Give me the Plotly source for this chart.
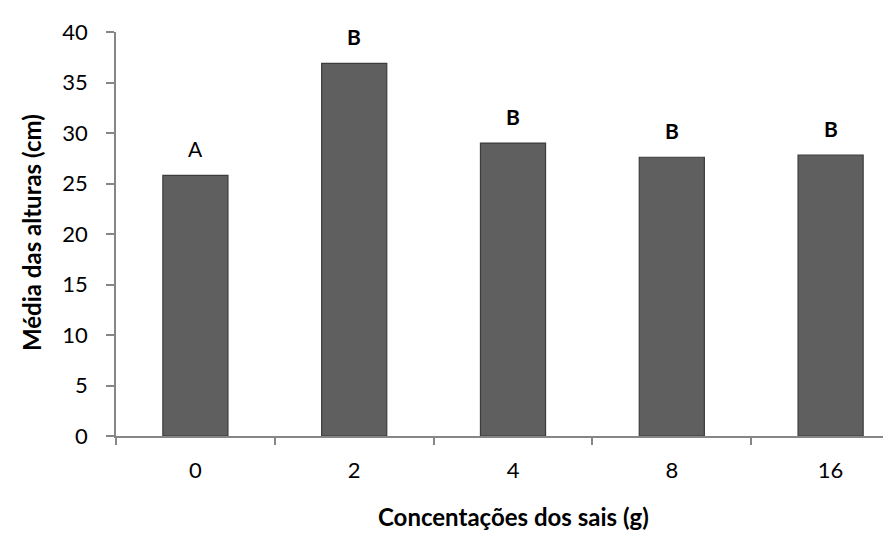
import plotly.graph_objects as go

categories = ["0", "2", "4", "8", "16"]
values = [25.8, 36.9, 29.0, 27.6, 27.8]
letters = ["A", "B", "B", "B", "B"]
letter_bold = [False, True, True, True, True]
y_ticks = [0, 5, 10, 15, 20, 25, 30, 35, 40]

FONT = "Lato"

fig = go.Figure()
fig.add_trace(go.Bar(
    x=categories, y=values, width=0.41,
    marker=dict(color="#5f5f5f", line=dict(color="#3c3c3c", width=1.2)),
    hoverinfo="skip",
))

for i, (v, t, b) in enumerate(zip(values, letters, letter_bold)):
    fig.add_annotation(
        x=i, y=v, text=f"<b>{t}</b>" if b else t, showarrow=False,
        yshift=27, yanchor="middle",
        font=dict(family=FONT, size=21, color="#000000"),
    )

fig.add_annotation(
    xref="paper", yref="paper", x=(505 - 108) / (891 - 108), y=(428 - 508) / 404,
    text="<b>Concentações dos sais (g)</b>", showarrow=False,
    xanchor="center", yanchor="middle",
    font=dict(family=FONT, size=24, color="#000000"),
)
fig.add_annotation(
    xref="paper", yref="paper", x=(23 - 108) / (891 - 108), y=(428 - 225) / 404,
    text="<b>Média das alturas (cm)</b>", showarrow=False, textangle=-90,
    xanchor="center", yanchor="middle",
    font=dict(family=FONT, size=24, color="#000000"),
)

fig.update_layout(
    width=891, height=533,
    margin=dict(l=108, r=0, t=24, b=105),
    plot_bgcolor="white", paper_bgcolor="white",
    showlegend=False,
    font=dict(family=FONT, size=22, color="#000000"),
    xaxis=dict(
        type="category",
        range=[-0.5, 4.5 - (902 - 891) / 158.7],
        showline=True, linecolor="#868686", linewidth=1.5,
        ticks="outside", tickson="boundaries", ticklen=7, tickcolor="#868686", tickwidth=1.5,
        showgrid=False, zeroline=False,
        tickfont=dict(family=FONT, size=22),
        ticklabelstandoff=14,
    ),
    yaxis=dict(
        range=[0, 40], tickvals=y_ticks,
        showline=True, linecolor="#868686", linewidth=1.5,
        ticks="outside", ticklen=8, tickcolor="#868686", tickwidth=1.5,
        showgrid=False, zeroline=False,
        tickfont=dict(family=FONT, size=22),
        ticklabelstandoff=14,
    ),
)

fig.write_html("out.html")
